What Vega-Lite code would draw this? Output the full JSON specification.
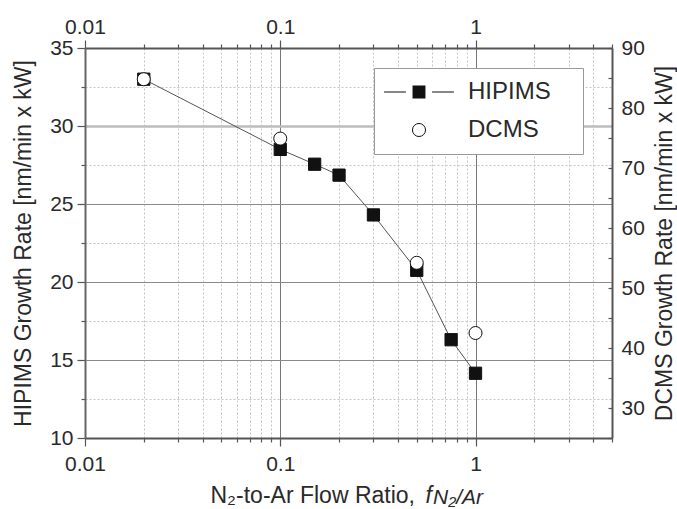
{
  "$schema": "https://vega.github.io/schema/vega-lite/v6.json",
  "width": 527,
  "height": 390,
  "autosize": {"type": "none"},
  "padding": {"left": 85, "top": 48, "right": 65, "bottom": 71},
  "background": "white",
  "config": {"view": {"stroke": null}, "font": "Liberation Sans"},
  "title": {
    "text": "N\u2082/Ar",
    "orient": "bottom",
    "anchor": "start",
    "frame": "group",
    "dx": 348,
    "offset": -3,
    "baseline": "alphabetic",
    "font": "Liberation Sans",
    "fontSize": 21,
    "fontStyle": "italic",
    "fontWeight": "normal",
    "color": "#2a2a2a"
  },
  "data": {
    "values": [
      {"series": "HIPIMS", "ratio": 0.02, "rate": 33.0},
      {"series": "HIPIMS", "ratio": 0.1, "rate": 28.5},
      {"series": "HIPIMS", "ratio": 0.15, "rate": 27.55},
      {"series": "HIPIMS", "ratio": 0.2, "rate": 26.85},
      {"series": "HIPIMS", "ratio": 0.3, "rate": 24.3},
      {"series": "HIPIMS", "ratio": 0.5, "rate": 20.75},
      {"series": "HIPIMS", "ratio": 0.75, "rate": 16.3},
      {"series": "HIPIMS", "ratio": 1.0, "rate": 14.15},
      {"series": "DCMS", "ratio": 0.02, "rate": 84.8},
      {"series": "DCMS", "ratio": 0.1, "rate": 74.9},
      {"series": "DCMS", "ratio": 0.5, "rate": 54.2},
      {"series": "DCMS", "ratio": 1.0, "rate": 42.5}
    ]
  },
  "layer": [
    {
      "transform": [{"filter": "datum.series === 'HIPIMS'"}],
      "encoding": {
        "x": {
          "field": "ratio",
          "type": "quantitative",
          "scale": {"type": "log", "domain": [0.01, 5], "nice": false},
          "axis": {
            "orient": "bottom",
            "values": [0.01,0.02,0.03,0.04,0.05,0.06,0.07,0.08,0.09,0.1,0.2,0.3,0.4,0.5,0.6,0.7,0.8,0.9,1,2,3,4,5],
            "format": "~g",
            "labelExpr": "abs(log(datum.value)/LN10 - round(log(datum.value)/LN10)) < 0.001 ? datum.label : ''",
            "grid": true,
            "gridColor": {"condition": {"test": "abs(log(datum.value)/LN10 - round(log(datum.value)/LN10)) < 0.001", "value": "#777777"}, "value": "#c4c4c4"},
            "gridDash": {"condition": {"test": "abs(log(datum.value)/LN10 - round(log(datum.value)/LN10)) < 0.001", "value": []}, "value": [2, 2]},
            "gridWidth": 1,
            "tickSize": {"condition": {"test": "abs(log(datum.value)/LN10 - round(log(datum.value)/LN10)) < 0.001", "value": 8}, "value": 4},
            "tickColor": "#555555",
            "tickWidth": 1.2,
            "domainColor": "#555555",
            "domainWidth": 2,
            "labelFont": "Liberation Sans",
            "labelFontSize": 21,
            "labelColor": "#2a2a2a",
            "labelPadding": 7,
            "labelFlush": false,
            "labelOverlap": false,
            "title": "N\u2082-to-Ar Flow Ratio,",
            "titleFont": "Liberation Sans",
            "titleFontSize": 23,
            "titleFontWeight": "normal",
            "titleColor": "#2a2a2a",
            "titleAlign": "left",
            "titleBaseline": "alphabetic",
            "titleX": 125,
            "titleY": 64
          }
        },
        "y": {
          "field": "rate",
          "type": "quantitative",
          "scale": {"domain": [10, 35], "nice": false, "zero": false},
          "axis": {
            "orient": "left",
            "values": [10,12.5,15,17.5,20,22.5,25,27.5,30,32.5,35],
            "format": "~g",
            "labelExpr": "datum.value % 5 === 0 ? datum.label : ''",
            "grid": true,
            "gridColor": {"condition": [{"test": "datum.value === 30", "value": "#bdbdbd"}, {"test": "datum.value % 5 === 0", "value": "#8a8a8a"}], "value": "#c4c4c4"},
            "gridDash": {"condition": {"test": "datum.value % 5 === 0", "value": []}, "value": [2, 2]},
            "gridWidth": {"condition": {"test": "datum.value === 30", "value": 2.5}, "value": 1},
            "tickSize": {"condition": {"test": "datum.value % 5 === 0", "value": 8}, "value": 4},
            "tickColor": "#555555",
            "tickWidth": 1.2,
            "domainColor": "#666666",
            "domainWidth": 2,
            "labelFont": "Liberation Sans",
            "labelFontSize": 21,
            "labelColor": "#2a2a2a",
            "labelPadding": 4,
            "labelFlush": false,
            "labelOverlap": false,
            "title": "HIPIMS Growth Rate [nm/min x kW]",
            "titleFont": "Liberation Sans",
            "titleFontSize": 23,
            "titleFontWeight": "normal",
            "titleColor": "#2a2a2a",
            "titlePadding": 14
          }
        }
      },
      "layer": [
        {"mark": {"type": "line", "color": "#555555", "strokeWidth": 1}},
        {"mark": {"type": "point", "shape": "square", "size": 150, "fill": "#111111", "stroke": "#111111", "strokeWidth": 1, "opacity": 1, "filled": true}}
      ]
    },
    {
      "transform": [{"filter": "datum.series === 'DCMS'"}],
      "mark": {"type": "point", "size": 170, "fill": "white", "stroke": "#111111", "strokeWidth": 1, "opacity": 1, "filled": true},
      "encoding": {
        "x": {
          "field": "ratio",
          "type": "quantitative",
          "scale": {"type": "log", "domain": [0.01, 5], "nice": false},
          "axis": {
            "orient": "top",
            "values": [0.01,0.02,0.03,0.04,0.05,0.06,0.07,0.08,0.09,0.1,0.2,0.3,0.4,0.5,0.6,0.7,0.8,0.9,1,2,3,4,5],
            "format": "~g",
            "labelExpr": "abs(log(datum.value)/LN10 - round(log(datum.value)/LN10)) < 0.001 ? datum.label : ''",
            "grid": false,
            "tickSize": {"condition": {"test": "abs(log(datum.value)/LN10 - round(log(datum.value)/LN10)) < 0.001", "value": 8}, "value": 4},
            "tickColor": "#555555",
            "tickWidth": 1.2,
            "domainColor": "#555555",
            "domainWidth": 2,
            "labelFont": "Liberation Sans",
            "labelFontSize": 21,
            "labelColor": "#2a2a2a",
            "labelPadding": 3,
            "labelFlush": false,
            "labelOverlap": false,
            "title": "f",
            "titleFont": "Liberation Sans",
            "titleFontSize": 23,
            "titleFontStyle": "italic",
            "titleFontWeight": "normal",
            "titleColor": "#2a2a2a",
            "titleAlign": "left",
            "titleBaseline": "alphabetic",
            "titleAngle": 0,
            "titleX": 340,
            "titleY": 454
          }
        },
        "y": {
          "field": "rate",
          "type": "quantitative",
          "scale": {"domain": [25, 90], "nice": false, "zero": false},
          "axis": {
            "orient": "right",
            "values": [25,30,35,40,45,50,55,60,65,70,75,80,85,90],
            "format": "~g",
            "labelExpr": "datum.value % 10 === 0 ? datum.label : ''",
            "grid": false,
            "tickSize": -4,
            "tickColor": "#555555",
            "tickWidth": 1.2,
            "domainColor": "#555555",
            "domainWidth": 2,
            "labelFont": "Liberation Sans",
            "labelFontSize": 21,
            "labelColor": "#2a2a2a",
            "labelPadding": 13,
            "labelFlush": false,
            "labelOverlap": false,
            "title": "DCMS Growth Rate [nm/min x kW]",
            "titleAngle": 270,
            "titleBaseline": "top",
            "titleFont": "Liberation Sans",
            "titleFontSize": 23,
            "titleFontWeight": "normal",
            "titleColor": "#2a2a2a",
            "titlePadding": 9
          }
        },
        "shape": {
          "field": "series",
          "type": "nominal",
          "scale": {"domain": ["HIPIMS", "DCMS"], "range": ["M-2.33,-0.035H-0.87V0.035H-2.33Z M-0.43,-0.43H0.43V0.43H-0.43Z M0.87,-0.035H2.33V0.035H0.87Z", "circle"]},
          "legend": {
            "orient": "none",
            "legendX": 289,
            "legendY": 20,
            "title": null,
            "fillColor": "white",
            "strokeColor": "#999999",
            "padding": 12,
            "symbolSize": 900,
            "symbolOffset": 21,
            "labelOffset": 37,
            "rowPadding": 14,
            "labelFont": "Liberation Sans",
            "labelFontSize": 24,
            "labelColor": "#2a2a2a",
            "labelExpr": "datum.label === 'HIPIMS' ? 'HIPIMS\u00a0\u00a0\u00a0\u200b' : datum.label",
            "encoding": {
              "symbols": {
                "size": {"value": {"expr": "datum.value === 'HIPIMS' ? 900 : 170"}},
                "fill": {"value": {"expr": "datum.value === 'HIPIMS' ? '#111111' : 'white'"}},
                "stroke": {"value": "#111111"},
                "strokeWidth": {"value": {"expr": "datum.value === 'HIPIMS' ? 0 : 1"}},
                "opacity": {"value": 1}
              }
            }
          }
        }
      }
    }
  ],
  "resolve": {"scale": {"y": "independent"}, "axis": {"x": "independent"}}
}
